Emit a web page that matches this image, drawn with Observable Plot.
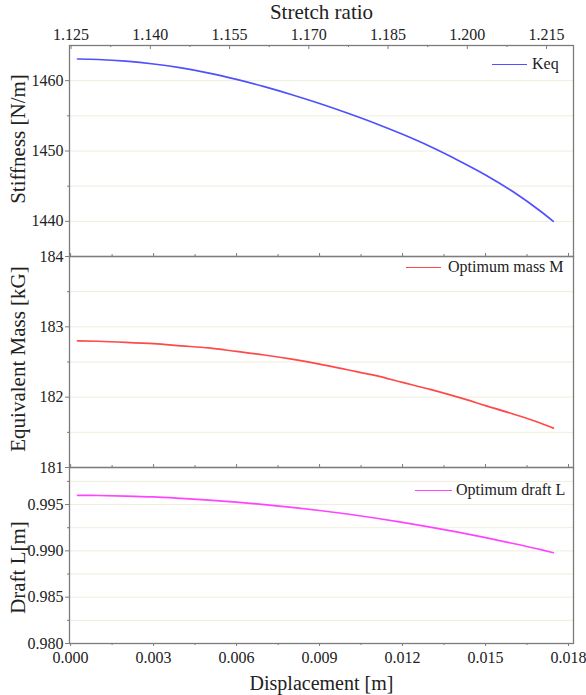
<!DOCTYPE html>
<html><head><meta charset="utf-8">
<script src="https://cdn.jsdelivr.net/npm/d3@7"></script>
<script src="https://cdn.jsdelivr.net/npm/@observablehq/plot@0.6"></script>
<style>
body{margin:0;background:#fff;}
#chart{position:relative;width:586px;height:695px;font-family:"Liberation Serif","Times New Roman",serif;color:#222;}
#chart svg{position:absolute;left:0;overflow:visible;}
.leg{position:absolute;font-size:16px;line-height:16px;white-space:nowrap;color:#222;}
.leg i{display:inline-block;vertical-align:middle;border-top:1.6px solid;position:relative;top:-1px;}
</style></head><body><div id="chart"></div><script>
// ---- data ----
const displacement = [0.00025, 0.001, 0.002, 0.003, 0.004, 0.005, 0.006, 0.007, 0.008, 0.009, 0.010, 0.011, 0.012, 0.013, 0.014, 0.015, 0.016, 0.017, 0.01745];
const stiffness = [1463.08, 1463.01, 1462.77, 1462.37, 1461.81, 1461.08, 1460.18, 1459.15, 1458.0, 1456.75, 1455.4, 1453.95, 1452.37, 1450.64, 1448.7, 1446.6, 1444.2, 1441.4, 1440.0];
const mass = [182.80, 182.795, 182.78, 182.76, 182.73, 182.70, 182.65, 182.60, 182.54, 182.47, 182.39, 182.31, 182.21, 182.11, 182.00, 181.88, 181.76, 181.63, 181.56];
const draft = [0.99600, 0.99598, 0.99592, 0.99582, 0.99566, 0.99548, 0.99526, 0.99500, 0.99470, 0.99436, 0.99398, 0.99355, 0.99308, 0.99257, 0.99202, 0.99143, 0.99080, 0.99013, 0.98980];

const xTicks = [0, 0.003, 0.006, 0.009, 0.012, 0.015, 0.018];
const xMinor = [0.0015, 0.0045, 0.0075, 0.0105, 0.0135, 0.0165];
const stretchTicks = [1.125, 1.140, 1.155, 1.170, 1.185, 1.200, 1.215];
const stretchMinor = [1.1325, 1.1475, 1.1625, 1.1775, 1.1925, 1.2075];

const stiffTicks = [1440, 1450, 1460];
const stiffMinor = [1445, 1455];
const massTicks = [181, 182, 183, 184];
const massMinor = [181.5, 182.5, 183.5];
const draftTicks = [0.980, 0.985, 0.990, 0.995];
const draftMinor = [0.9825, 0.9875, 0.9925, 0.9975];

const seriesNames = ["Keq", "Optimum mass M", "Optimum draft L"];
const seriesColors = ["#5050ff", "#ff4a4a", "#ff44ff"];
const yTitles = ["Stiffness [N/m]", "Equivalent Mass [kG]", "Draft L[m]"];
const xTitle = "Displacement [m]";
const topTitle = "Stretch ratio";

// ---- layout ----
const W = 586, ML = 69, MR = 13;
const xDomain = [-0.00004, 0.01818];
const frameColor = "#7c7c7c";
const gridColor = "#eeeedd";
const font = "'Liberation Serif','Times New Roman',serif";
const chart = document.getElementById("chart");

function panel(o) {
  const data = displacement.map((d, i) => ({d, v: o.values[i]}));
  const fh = o.height - o.mT - o.mB;
  const marks = [
    Plot.gridY(o.yTicks.concat(o.yMinor), {stroke: gridColor, strokeOpacity: 1, strokeWidth: 1}),
    Plot.line(data, {x: "d", y: "v", stroke: o.color, strokeWidth: 1.7, curve: "monotone-x"}),
    Plot.frame({stroke: frameColor, strokeWidth: 1.3}),
    Plot.axisY({ticks: o.yTicks, tickSize: 4, tickPadding: 2, tickFormat: o.fmt, fontSize: 16, stroke: frameColor, label: null}),
    Plot.axisY({ticks: o.yMinor, tickSize: 2, tickFormat: () => "", stroke: frameColor, label: null}),
    Plot.text([o.title], {frameAnchor: "left", dx: -51, dy: o.titleDy, rotate: -90, fontSize: 21, fill: "#222", textAnchor: "middle", lineAnchor: "middle"})
  ];
  if (o.bottom) {
    marks.push(
      Plot.axisX({ticks: xTicks, tickSize: 3, tickPadding: 5, tickFormat: d3.format(".3f"), fontSize: 16, stroke: frameColor, label: null}),
      Plot.axisX({ticks: xMinor, tickSize: 2, tickFormat: () => "", stroke: frameColor, label: null}),
      Plot.text([xTitle], {frameAnchor: "bottom", dy: 40, fontSize: 20, fill: "#222", textAnchor: "middle", lineAnchor: "middle"})
    );
  } else {
    marks.push(
      Plot.tickX(xTicks, {x: d => d, insetTop: fh - 3, stroke: frameColor}),
      Plot.tickX(xMinor, {x: d => d, insetTop: fh - 2, stroke: frameColor})
    );
  }
  const svg = Plot.plot({
    width: W, height: o.height,
    marginLeft: ML, marginRight: MR, marginTop: o.mT, marginBottom: o.mB,
    x: {domain: xDomain, axis: o.bottom ? undefined : null},
    y: {domain: o.yDomain},
    style: {background: "transparent", overflow: "visible", fontFamily: font, color: "#222"},
    marks
  });
  svg.style.top = o.top + "px";
  chart.appendChild(svg);
}

panel({top: 0, height: 256, mT: 45, mB: 0, values: stiffness, yDomain: [1435, 1465], yTicks: stiffTicks, yMinor: stiffMinor, fmt: d3.format("d"), color: seriesColors[0], title: yTitles[0], titleDy: -12, bottom: false});
panel({top: 256, height: 211, mT: 0, mB: 0, values: mass, yDomain: [181, 184], yTicks: massTicks, yMinor: massMinor, fmt: d3.format("d"), color: seriesColors[1], title: yTitles[1], titleDy: -3, bottom: false});
panel({top: 467, height: 228, mT: 0, mB: 52, values: draft, yDomain: [0.980, 0.999], yTicks: draftTicks, yMinor: draftMinor, fmt: d3.format(".3f"), color: seriesColors[2], title: yTitles[2], titleDy: 12, bottom: true});

// top stretch-ratio axis
const topSvg = Plot.plot({
  width: W, height: 256, marginLeft: ML, marginRight: MR, marginTop: 45, marginBottom: 0,
  x: {domain: [1.1247, 1.2201]},
  style: {background: "transparent", overflow: "visible", fontFamily: font, color: "#222"},
  marks: [
    Plot.axisX({anchor: "top", ticks: stretchTicks, tickSize: 0, tickPadding: 6, tickFormat: d3.format(".3f"), fontSize: 16, label: null}),
    Plot.tickX(stretchTicks, {x: d => d, insetBottom: 211 - 4, stroke: frameColor}),
    Plot.tickX(stretchMinor, {x: d => d, insetBottom: 211 - 2, stroke: frameColor}),
    Plot.text([topTitle], {frameAnchor: "top", dy: -33, fontSize: 21, fill: "#222", textAnchor: "middle", lineAnchor: "middle"})
  ]
});
topSvg.style.top = "0px";
chart.appendChild(topSvg);

// legends
const legPos = [{left: 492, top: 56, w: 35, gap: 5}, {left: 406, top: 259, w: 35, gap: 7}, {left: 415, top: 482, w: 37, gap: 4}];
seriesNames.forEach((name, i) => {
  const p = legPos[i];
  const div = document.createElement("div");
  div.className = "leg";
  div.style.left = p.left + "px";
  div.style.top = p.top + "px";
  const line = document.createElement("i");
  line.style.width = p.w + "px";
  line.style.marginRight = p.gap + "px";
  line.style.borderColor = seriesColors[i];
  div.appendChild(line);
  div.appendChild(document.createTextNode(name));
  chart.appendChild(div);
});
</script></body></html>
